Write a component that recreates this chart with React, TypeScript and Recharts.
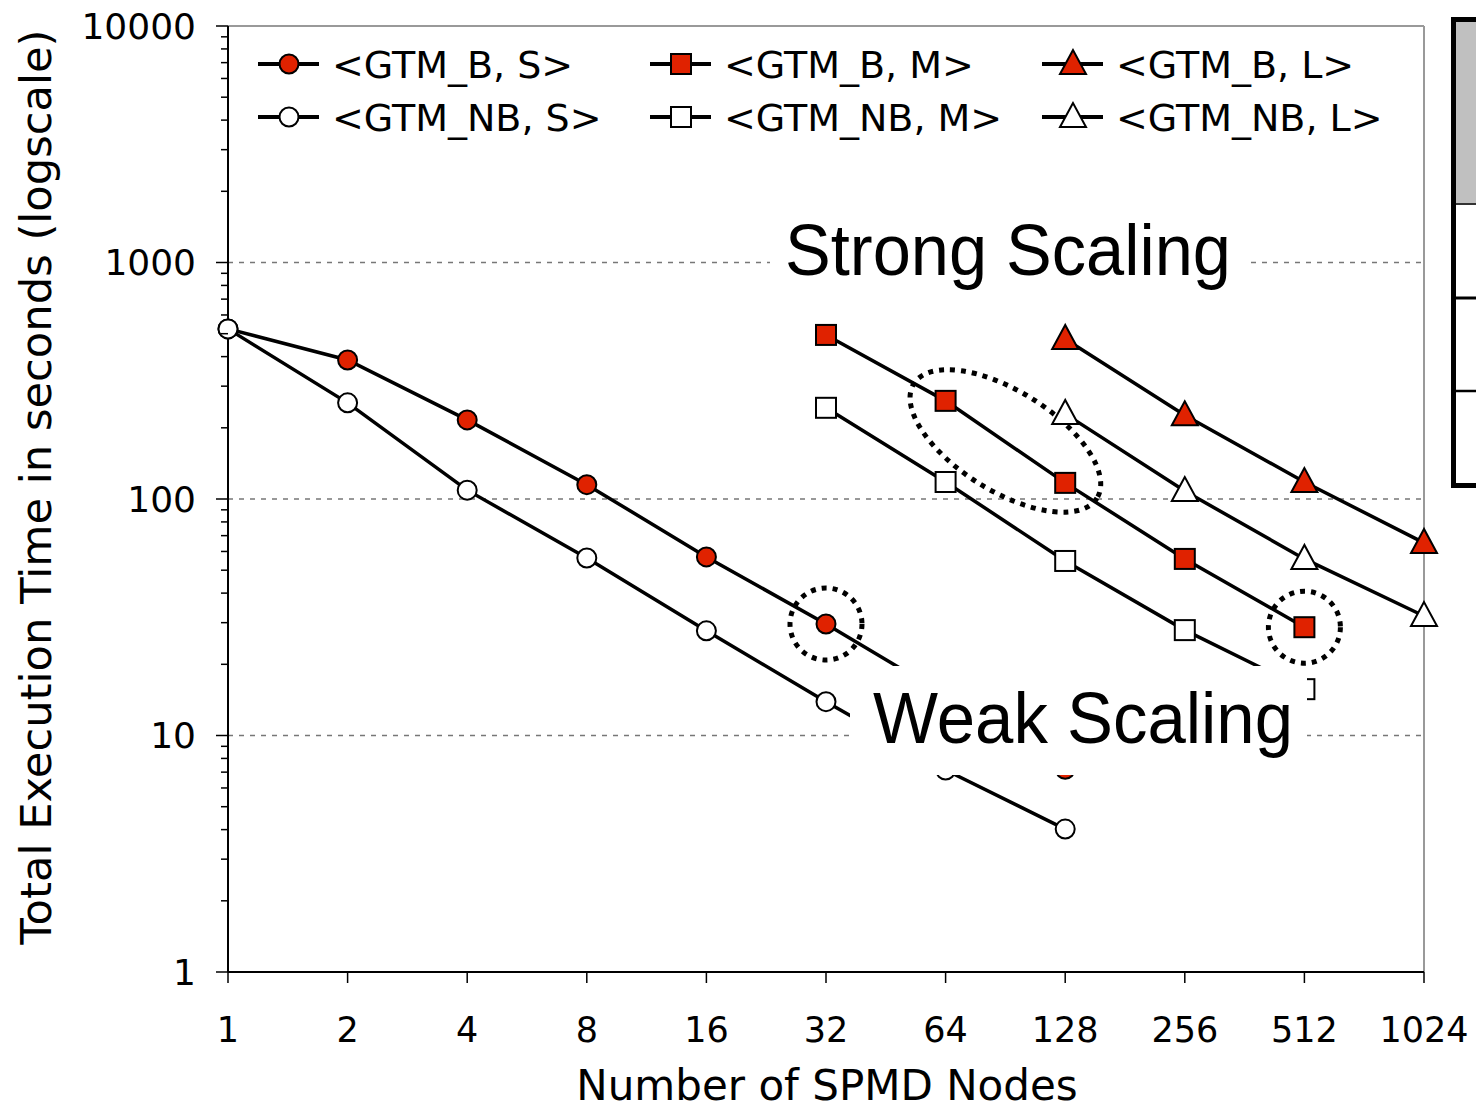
import React from 'react';
import { LineChart, Line, XAxis, YAxis, ReferenceLine, ReferenceDot, Legend } from 'recharts';

const NODES = [1, 2, 4, 8, 16, 32, 64, 128, 256, 512, 1024];
const Y_MAJOR = [1, 10, 100, 1000, 10000];

const nodesS = [1, 2, 4, 8, 16, 32, 64, 128];
const gtmBS = [524, 387, 216, 115, 56.9, 29.6, 14.8, 7.2];
const gtmNBS = [524, 255, 109, 56.3, 27.7, 13.9, 7.15, 4.02];

const nodesM = [32, 64, 128, 256, 512];
const gtmBM = [494, 260, 117, 55.8, 28.7];
const gtmNBM = [243, 118, 54.7, 27.9, 15.7];

const nodesL = [128, 256, 512, 1024];
const gtmBL = [475, 226, 118, 65.2];
const gtmNBL = [229, 108, 55.8, 32.0];

const RED = '#e02200';
const FONT = '"DejaVu Sans", Verdana, sans-serif';
const ARIAL = '"Liberation Sans", Arial, sans-serif';

type Shape = 'circle' | 'square' | 'triangle';

const SERIES = [
  { name: '<GTM_B, S>', nodes: nodesS, values: gtmBS, shape: 'circle' as Shape, filled: true },
  { name: '<GTM_B, M>', nodes: nodesM, values: gtmBM, shape: 'square' as Shape, filled: true },
  { name: '<GTM_B, L>', nodes: nodesL, values: gtmBL, shape: 'triangle' as Shape, filled: true },
  { name: '<GTM_NB, S>', nodes: nodesS, values: gtmNBS, shape: 'circle' as Shape, filled: false },
  { name: '<GTM_NB, M>', nodes: nodesM, values: gtmNBM, shape: 'square' as Shape, filled: false },
  { name: '<GTM_NB, L>', nodes: nodesL, values: gtmNBL, shape: 'triangle' as Shape, filled: false },
];

// minor ticks 2..9 per decade
const Y_TICKS: number[] = [];
for (let k = 0; k < 4; k++) {
  for (let d = 1; d < 10; d++) Y_TICKS.push(d * Math.pow(10, k));
}
Y_TICKS.push(10000);

const Marker = ({ cx, cy, shape, filled }: { cx: number; cy: number; shape: Shape; filled: boolean }) => {
  const fill = filled ? RED : '#fff';
  if (shape === 'circle') return <circle cx={cx} cy={cy} r={9.5} fill={fill} stroke="#000" strokeWidth={2} />;
  if (shape === 'square') return <rect x={cx - 10} y={cy - 10} width={20} height={20} fill={fill} stroke="#000" strokeWidth={2} />;
  return (
    <polygon
      points={`${cx},${cy - 14} ${cx - 13},${cy + 10} ${cx + 13},${cy + 10}`}
      fill={fill}
      stroke="#000"
      strokeWidth={2}
    />
  );
};

const YTick = (props: any) => {
  const { x, y, payload } = props;
  const major = Y_MAJOR.includes(payload.value);
  return (
    <g>
      <line x1={x - (major ? 12 : 7)} x2={x} y1={y} y2={y} stroke="#000" strokeWidth={1.5} />
      {major && (
        <text x={x - 32} y={y} dy="0.36em" textAnchor="end" fontFamily={FONT} fontSize={36} fill="#000">
          {payload.value}
        </text>
      )}
    </g>
  );
};

const XTick = (props: any) => {
  const { x, y, payload } = props;
  return (
    <g>
      <line x1={x} x2={x} y1={y} y2={y + 11} stroke="#000" strokeWidth={1.5} />
      <text x={x} y={y + 70} textAnchor="middle" fontFamily={FONT} fontSize={35} fill="#000">
        {payload.value}
      </text>
    </g>
  );
};

const renderLegend = () => {
  const cols = [258, 650, 1042];
  const rows = [64, 117];
  return (
    <svg width={1476} height={150} style={{ display: 'block' }}>
      {SERIES.map((s, i) => {
        const x = cols[i % 3];
        const y = rows[Math.floor(i / 3)];
        return (
          <g key={s.name}>
            <line x1={x} x2={x + 61} y1={y} y2={y} stroke="#000" strokeWidth={4} />
            <Marker cx={x + 31} cy={y} shape={s.shape} filled={s.filled} />
            <text x={x + 74} y={y} dy="0.36em" fontFamily={FONT} fontSize={38} fill="#000">
              {s.name}
            </text>
          </g>
        );
      })}
    </svg>
  );
};

const dotted = { stroke: '#000', strokeWidth: 5, strokeDasharray: '5 6', fill: 'none' };

export default function App() {
  return (
    <div style={{ position: 'absolute', left: 0, top: 0, width: 1476, height: 1111, background: '#fff' }}>
      <LineChart width={1476} height={1111} margin={{ top: 26, right: 52, bottom: 59, left: 128 }}>
        <XAxis
          type="number"
          dataKey="x"
          scale="log"
          domain={[1, 1024]}
          ticks={NODES}
          height={80}
          stroke="#000"
          strokeWidth={2}
          tickLine={false}
          tickSize={0}
          tickMargin={0}
          tick={<XTick />}
          interval={0}
        />
        <YAxis
          type="number"
          dataKey="y"
          scale="log"
          domain={[1, 10000]}
          ticks={Y_TICKS}
          width={100}
          stroke="#000"
          strokeWidth={2}
          tickLine={false}
          tickSize={0}
          tickMargin={0}
          tick={<YTick />}
          interval={0}
        />
        {[10, 100, 1000].map((v) => (
          <ReferenceLine key={v} y={v} stroke="#777" strokeWidth={1.5} strokeDasharray="5 6" />
        ))}
        <ReferenceLine y={10000} stroke="#999" strokeWidth={2} />
        <ReferenceLine x={1024} stroke="#999" strokeWidth={2} />
        {SERIES.map((s) => (
          <Line
            key={s.name}
            name={s.name}
            data={s.nodes.map((n, i) => ({ x: n, y: s.values[i] }))}
            dataKey="y"
            stroke="#000"
            strokeWidth={3.5}
            isAnimationActive={false}
            dot={(p: any) => <Marker key={p.index} cx={p.cx} cy={p.cy} shape={s.shape} filled={s.filled} />}
          />
        ))}
        <ReferenceDot x={32} y={gtmBS[5]} r={36} shape={(p: any) => <circle cx={p.cx} cy={p.cy} r={36} {...dotted} />} />
        <ReferenceDot x={512} y={gtmBM[4]} r={36} shape={(p: any) => <circle cx={p.cx} cy={p.cy} r={36} {...dotted} />} />
        <ReferenceDot
          x={90.5}
          y={176}
          r={50}
          shape={(p: any) => (
            <ellipse cx={p.cx} cy={p.cy} rx={108} ry={50} transform={`rotate(32 ${p.cx} ${p.cy})`} {...dotted} />
          )}
        />
        <Legend
          layout="vertical"
          verticalAlign="middle"
          align="center"
          wrapperStyle={{ left: 0, top: 0, width: 1476, height: 150 }}
          content={renderLegend}
        />
      </LineChart>
      <svg
        width={1476}
        height={1111}
        style={{ position: 'absolute', left: 0, top: 0, pointerEvents: 'none' }}
      >
        <rect x={770} y={208} width={478} height={88} fill="#fff" />
        <text x={785} y={275} fontFamily={ARIAL} fontSize={72} textLength={446} lengthAdjust="spacingAndGlyphs" fill="#000">
          Strong Scaling
        </text>
        <rect x={850} y={666} width={457} height={109} fill="#fff" />
        <text x={873} y={743} fontFamily={ARIAL} fontSize={72} textLength={420} lengthAdjust="spacingAndGlyphs" fill="#000">
          Weak Scaling
        </text>
        <text
          x={51}
          y={487}
          transform="rotate(-90 51 487)"
          textAnchor="middle"
          fontFamily={FONT}
          fontSize={43}
          textLength={915}
          lengthAdjust="spacingAndGlyphs"
          fill="#000"
        >
          Total Execution Time in seconds (logscale)
        </text>
        <text x={827} y={1100} textAnchor="middle" fontFamily={FONT} fontSize={42} fill="#000">
          Number of SPMD Nodes
        </text>
        <rect x={1453.5} y={19.5} width={40} height={466} fill="#fff" stroke="#000" strokeWidth={5} />
        <rect x={1456} y={22} width={22} height={181} fill="#c0c0c0" />
        <line x1={1456} x2={1476} y1={204} y2={204} stroke="#333" strokeWidth={2} />
        <line x1={1456} x2={1476} y1={298} y2={298} stroke="#000" strokeWidth={3} />
        <line x1={1456} x2={1476} y1={391} y2={391} stroke="#000" strokeWidth={2.5} />
      </svg>
    </div>
  );
}
